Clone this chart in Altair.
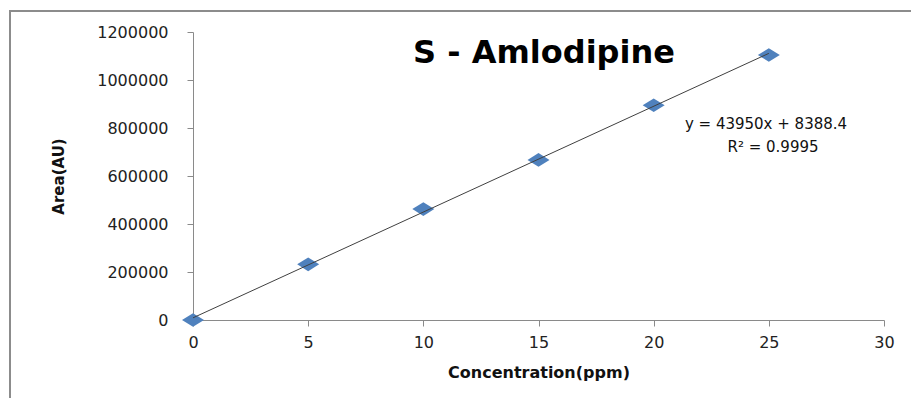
import altair as alt
import pandas as pd

# Data
concentration = [0, 5, 10, 15, 20, 25]
area = [0, 232000, 462000, 667000, 895000, 1104000]
x_ticks = [0, 5, 10, 15, 20, 25, 30]
y_ticks = [0, 200000, 400000, 600000, 800000, 1000000, 1200000]
title_text = "S - Amlodipine"
equation_line1 = "y = 43950x + 8388.4"
equation_line2 = "R\u00b2 = 0.9995"

df = pd.DataFrame({"x": concentration, "y": area})

FONT = "DejaVu Sans"
W, H = 691, 288
PAD_L, PAD_T = 193, 32

xscale = alt.Scale(domain=[0, 30], nice=False, zero=False)
yscale = alt.Scale(domain=[0, 1200000], nice=False)

xaxis = alt.Axis(
    values=x_ticks, grid=False, title="Concentration(ppm)",
    domainColor="#8a8a8a", tickColor="#8a8a8a", tickSize=6,
    labelFont=FONT, labelFontSize=16, labelColor="#222222", labelPadding=8,
    titleFont=FONT, titleFontSize=16, titleFontWeight="bold", titleColor="#111111",
    titleX=W / 2, titleY=57, titleBaseline="alphabetic", titleAlign="center",
    labelFlush=False,
)
yaxis = alt.Axis(
    values=y_ticks, grid=False, title="Area(AU)", format="d",
    domainColor="#8a8a8a", tickColor="#8a8a8a", tickSize=6,
    labelFont=FONT, labelFontSize=16, labelColor="#222222", labelPadding=19,
    titleFont=FONT, titleFontSize=15, titleFontWeight="bold", titleColor="#111111",
    titleX=-135, titleY=H / 2, titleBaseline="middle", titleAlign="center", titleAngle=-90,
    labelFlush=False,
)

base = alt.Chart(df)

points = base.mark_point(
    shape="M-1,0L0,-0.62L1,0L0,0.62Z", filled=True, opacity=1,
    color="#4F81BD", size=484,
).encode(
    x=alt.X("x:Q", scale=xscale, axis=xaxis),
    y=alt.Y("y:Q", scale=yscale, axis=yaxis),
)

trend = base.transform_regression("x", "y", extent=[0, 25]).mark_line(
    color="#404040", strokeWidth=1
).encode(
    x=alt.X("x:Q", scale=xscale),
    y=alt.Y("y:Q", scale=yscale),
)

title = alt.Chart(pd.DataFrame({"t": [title_text]})).mark_text(
    font=FONT, fontSize=32, fontWeight="bold", color="#000000",
    align="center", baseline="alphabetic",
).encode(text="t:N", x=alt.value(351), y=alt.value(31))

eq1 = alt.Chart(pd.DataFrame({"t": [equation_line1]})).mark_text(
    font=FONT, fontSize=15, color="#111111", align="center", baseline="alphabetic",
).encode(text="t:N", x=alt.value(573), y=alt.value(97))

eq2 = alt.Chart(pd.DataFrame({"t": [equation_line2]})).mark_text(
    font=FONT, fontSize=15, color="#111111", align="center", baseline="alphabetic",
).encode(text="t:N", x=alt.value(580), y=alt.value(120))

frame_left = alt.Chart(pd.DataFrame({"a": [0]})).mark_rule(
    color="#8c8c8c", strokeWidth=2
).encode(x=alt.value(10 - PAD_L), y=alt.value(10 - PAD_T), y2=alt.value(398 - PAD_T + 5))

frame_top = alt.Chart(pd.DataFrame({"a": [0]})).mark_rule(
    color="#8c8c8c", strokeWidth=2
).encode(x=alt.value(10 - PAD_L), x2=alt.value(911 - PAD_L), y=alt.value(11 - PAD_T))

chart = alt.layer(frame_left, frame_top, points, trend, title, eq1, eq2).properties(
    width=W, height=H,
    autosize=alt.AutoSizeParams(type="none"),
    padding={"left": PAD_L, "top": PAD_T, "right": 911 - PAD_L - W, "bottom": 398 - PAD_T - H},
    background="white",
).configure_view(stroke=None)

chart.save("out.html", embed_options={"renderer": "svg", "actions": False})
